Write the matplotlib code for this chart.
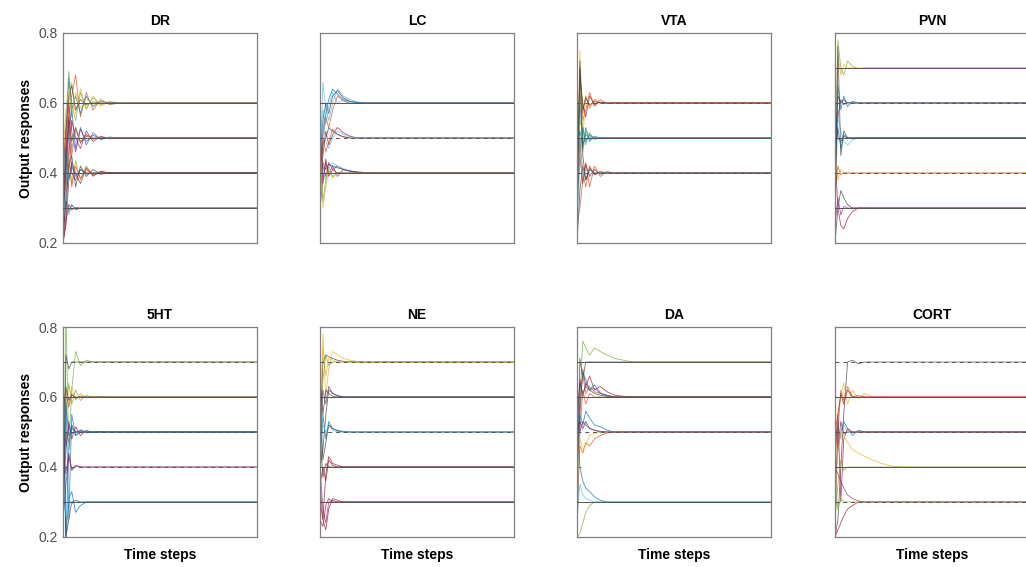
import matplotlib
matplotlib.use("Agg")
from matplotlib import pyplot as plt

plt.rcParams['font.family'] = ['Liberation Sans', 'DejaVu Sans']

# MATLAB-like line colours
colors = {
	'b': '#0072BD', 'o': '#D95319', 'y': '#EDB120', 'p': '#7E2F8E',
	'g': '#77AC30', 'c': '#4DBEEE', 'r': '#A2142F', 'k': '#404040',
}

# time steps of the early (transient) samples; after these each run stays at its target
steps = [0, 1.5, 3, 4.5, 6.5, 9, 12, 15.5, 19.5, 24, 29, 35]
t_end = 100

panel_names = ['DR', 'LC', 'VTA', 'PVN', '5HT', 'NE', 'DA', 'CORT']

# target levels for each output and whether the target line is dashed
levels = {
	'DR': [0.6, 0.5, 0.4, 0.3],
	'LC': [0.6, 0.5, 0.4],
	'VTA': [0.6, 0.5, 0.4],
	'PVN': [0.7, 0.6, 0.5, 0.4, 0.3],
	'5HT': [0.7, 0.6, 0.5, 0.4, 0.3],
	'NE': [0.7, 0.6, 0.5, 0.4, 0.3],
	'DA': [0.7, 0.6, 0.5, 0.3],
	'CORT': [0.7, 0.6, 0.5, 0.4, 0.3],
}
dashed = {
	'DR': [False, False, False, False],
	'LC': [False, True, False],
	'VTA': [True, False, True],
	'PVN': [False, True, False, True, False],
	'5HT': [True, False, True, True, False],
	'NE': [True, False, True, False, False],
	'DA': [False, False, True, False],
	'CORT': [True, False, True, False, True],
}

# output responses: (target, colour, early samples)
runs = {
	'DR': [
		(0.6, 'y', [0.30, 0.48, 0.60, 0.66, 0.57, 0.64, 0.58, 0.62, 0.59, 0.605, 0.60]),
		(0.6, 'o', [0.25, 0.40, 0.55, 0.62, 0.68, 0.56, 0.63, 0.58, 0.61, 0.595, 0.60]),
		(0.6, 'g', [0.35, 0.55, 0.69, 0.60, 0.55, 0.63, 0.585, 0.615, 0.595, 0.603]),
		(0.6, 'b', [0.28, 0.50, 0.67, 0.58, 0.62, 0.57, 0.62, 0.59, 0.605]),
		(0.6, 'k', [0.40, 0.52, 0.62, 0.65, 0.58, 0.61, 0.595, 0.603, 0.60]),
		(0.6, 'y', [0.45, 0.58, 0.64, 0.56, 0.63, 0.585, 0.612, 0.594, 0.603, 0.598]),
		(0.5, 'b', [0.22, 0.35, 0.52, 0.58, 0.47, 0.53, 0.48, 0.515, 0.495, 0.503]),
		(0.5, 'p', [0.30, 0.45, 0.60, 0.52, 0.46, 0.525, 0.49, 0.508, 0.498]),
		(0.5, 'r', [0.20, 0.28, 0.45, 0.55, 0.50, 0.47, 0.52, 0.49, 0.505, 0.498]),
		(0.5, 'k', [0.25, 0.40, 0.56, 0.49, 0.53, 0.485, 0.51, 0.497, 0.502]),
		(0.5, 'c', [0.35, 0.50, 0.54, 0.47, 0.52, 0.49, 0.505]),
		(0.5, 'o', [0.20, 0.50, 0.60, 0.45, 0.53, 0.49, 0.505]),
		(0.4, 'g', [0.28, 0.36, 0.44, 0.37, 0.435, 0.38, 0.42, 0.39, 0.405, 0.398]),
		(0.4, 'k', [0.22, 0.32, 0.42, 0.45, 0.36, 0.42, 0.39, 0.41, 0.396, 0.402]),
		(0.4, 'r', [0.20, 0.25, 0.38, 0.43, 0.40, 0.37, 0.415, 0.392, 0.405]),
		(0.4, 'o', [0.40, 0.52, 0.45, 0.36, 0.42, 0.385, 0.41, 0.395, 0.403]),
		(0.4, 'b', [0.30, 0.47, 0.38, 0.42, 0.39, 0.41, 0.397]),
		(0.4, 'r', [0.21, 0.45, 0.55, 0.40, 0.38, 0.41, 0.40]),
		(0.3, 'k', [0.22, 0.32, 0.29, 0.31, 0.295, 0.30]),
		(0.3, 'r', [0.20, 0.26, 0.31, 0.295, 0.302]),
		(0.3, 'c', [0.25, 0.35, 0.28, 0.305, 0.298]),
	],
	'LC': [
		(0.6, 'c', [0.40, 0.66, 0.58, 0.55, 0.60, 0.64, 0.62, 0.61, 0.603, 0.60]),
		(0.6, 'k', [0.45, 0.55, 0.60, 0.57, 0.62, 0.635, 0.615, 0.605, 0.601]),
		(0.6, 'c', [0.50, 0.58, 0.54, 0.59, 0.63, 0.60, 0.61, 0.598, 0.602]),
		(0.6, 'o', [0.35, 0.50, 0.56, 0.53, 0.58, 0.62, 0.605, 0.60]),
		(0.6, 'b', [0.42, 0.52, 0.57, 0.61, 0.64, 0.625, 0.61, 0.604, 0.601]),
		(0.5, 'r', [0.35, 0.45, 0.52, 0.48, 0.51, 0.53, 0.515, 0.505, 0.50]),
		(0.5, 'o', [0.30, 0.50, 0.46, 0.49, 0.525, 0.51, 0.503]),
		(0.5, 'k', [0.40, 0.48, 0.50, 0.53, 0.52, 0.51, 0.504, 0.50]),
		(0.5, 'c', [0.45, 0.55, 0.49, 0.47, 0.50, 0.52, 0.51, 0.502]),
		(0.4, 'p', [0.35, 0.42, 0.39, 0.43, 0.41, 0.42, 0.41, 0.405, 0.402, 0.401]),
		(0.4, 'p', [0.30, 0.38, 0.43, 0.40, 0.42, 0.39, 0.41, 0.405]),
		(0.4, 'c', [0.45, 0.40, 0.38, 0.42, 0.43, 0.42, 0.412, 0.406, 0.403, 0.401]),
		(0.4, 'k', [0.38, 0.43, 0.41, 0.425, 0.42, 0.415, 0.41, 0.406, 0.403, 0.401]),
		(0.4, 'y', [0.50, 0.30, 0.36, 0.41, 0.385, 0.40]),
		(0.4, 'g', [0.45, 0.32, 0.38, 0.42, 0.39, 0.402]),
		(0.4, 'r', [0.55, 0.37, 0.44, 0.39, 0.41, 0.40]),
	],
	'VTA': [
		(0.6, 'o', [0.45, 0.70, 0.55, 0.58, 0.63, 0.59, 0.61, 0.598, 0.601]),
		(0.6, 'o', [0.50, 0.62, 0.57, 0.62, 0.585, 0.61, 0.60]),
		(0.6, 'y', [0.30, 0.75, 0.50, 0.62, 0.59, 0.605, 0.60]),
		(0.6, 'r', [0.40, 0.66, 0.60, 0.56, 0.62, 0.595, 0.603]),
		(0.6, 'k', [0.35, 0.70, 0.58, 0.615, 0.595, 0.604, 0.60]),
		(0.5, 'b', [0.40, 0.60, 0.47, 0.53, 0.49, 0.505, 0.50]),
		(0.5, 'g', [0.30, 0.55, 0.52, 0.48, 0.515, 0.495, 0.502]),
		(0.5, 'b', [0.55, 0.45, 0.53, 0.49, 0.51, 0.498]),
		(0.5, 'c', [0.25, 0.50, 0.46, 0.52, 0.495]),
		(0.5, 'g', [0.20, 0.65, 0.47, 0.52, 0.505, 0.50]),
		(0.5, 'b', [0.45, 0.52, 0.48, 0.51, 0.50]),
		(0.4, 'o', [0.25, 0.30, 0.38, 0.43, 0.36, 0.42, 0.39, 0.405, 0.398]),
		(0.4, 'r', [0.30, 0.45, 0.37, 0.425, 0.39, 0.41, 0.397]),
		(0.4, 'k', [0.20, 0.35, 0.42, 0.38, 0.415, 0.395, 0.402]),
		(0.4, 'o', [0.35, 0.50, 0.40, 0.36, 0.42, 0.395, 0.405]),
		(0.4, 'c', [0.20, 0.45, 0.39, 0.41, 0.40]),
		(0.4, 'k', [0.25, 0.72, 0.45, 0.38, 0.41, 0.40]),
	],
	'PVN': [
		(0.7, 'g', [0.40, 0.78, 0.70, 0.68, 0.72, 0.705, 0.698, 0.70]),
		(0.7, 'y', [0.50, 0.74, 0.68, 0.71, 0.70]),
		(0.6, 'b', [0.40, 0.65, 0.58, 0.62, 0.59, 0.605, 0.60]),
		(0.6, 'p', [0.50, 0.56, 0.61, 0.595, 0.602]),
		(0.6, 'k', [0.30, 0.62, 0.60, 0.61, 0.60]),
		(0.5, 'c', [0.30, 0.56, 0.52, 0.49, 0.48, 0.495, 0.50]),
		(0.5, 'b', [0.45, 0.53, 0.47, 0.51, 0.50]),
		(0.5, 'k', [0.60, 0.50, 0.49, 0.505, 0.50]),
		(0.5, 'k', [0.22, 0.76, 0.45, 0.52, 0.50]),
		(0.4, 'y', [0.45, 0.38, 0.41, 0.40]),
		(0.4, 'o', [0.35, 0.42, 0.395, 0.40]),
		(0.3, 'k', [0.20, 0.30, 0.35, 0.33, 0.31, 0.30]),
		(0.3, 'r', [0.45, 0.30, 0.25, 0.24, 0.27, 0.29, 0.30]),
		(0.3, 'p', [0.25, 0.33, 0.28, 0.305, 0.30]),
	],
	'5HT': [
		(0.7, 'g', [0.20, 0.85, 0.45, 0.62, 0.73, 0.69, 0.705, 0.70]),
		(0.7, 'k', [0.30, 0.72, 0.68, 0.70]),
		(0.6, 'g', [0.45, 0.55, 0.64, 0.58, 0.62, 0.59, 0.605, 0.598, 0.601]),
		(0.6, 'y', [0.40, 0.60, 0.58, 0.63, 0.59, 0.61, 0.597, 0.602, 0.60]),
		(0.6, 'o', [0.50, 0.62, 0.57, 0.61, 0.595, 0.603, 0.60]),
		(0.6, 'k', [0.55, 0.63, 0.59, 0.605, 0.60]),
		(0.5, 'r', [0.30, 0.45, 0.53, 0.48, 0.515, 0.49, 0.505, 0.498, 0.501]),
		(0.5, 'o', [0.35, 0.50, 0.47, 0.52, 0.49, 0.507, 0.497, 0.501]),
		(0.5, 'b', [0.20, 0.58, 0.49, 0.51, 0.50]),
		(0.5, 'p', [0.55, 0.46, 0.52, 0.495, 0.503, 0.50]),
		(0.5, 'b', [0.60, 0.20, 0.45, 0.52, 0.497, 0.505, 0.50]),
		(0.5, 'b', [0.20, 0.60, 0.25, 0.55, 0.49, 0.50]),
		(0.4, 'r', [0.25, 0.35, 0.43, 0.39, 0.405, 0.40]),
		(0.4, 'p', [0.45, 0.38, 0.44, 0.395, 0.402]),
		(0.3, 'b', [0.50, 0.20, 0.31, 0.33, 0.27, 0.29, 0.30]),
		(0.3, 'k', [0.72, 0.20, 0.25, 0.30, 0.305, 0.30]),
		(0.3, 'c', [0.40, 0.26, 0.31, 0.295, 0.30]),
	],
	'NE': [
		(0.7, 'y', [0.45, 0.78, 0.60, 0.68, 0.73, 0.72, 0.71, 0.705, 0.702, 0.70]),
		(0.7, 'k', [0.50, 0.70, 0.72, 0.715, 0.71, 0.705, 0.702, 0.701]),
		(0.7, 'y', [0.55, 0.74, 0.66, 0.71, 0.705, 0.70]),
		(0.7, 'g', [0.40, 0.65, 0.72, 0.69, 0.70]),
		(0.6, 'p', [0.50, 0.62, 0.58, 0.63, 0.61, 0.605, 0.60]),
		(0.6, 'k', [0.65, 0.55, 0.62, 0.61, 0.602]),
		(0.6, 'k', [0.40, 0.45, 0.55, 0.62, 0.61, 0.603, 0.60]),
		(0.5, 'b', [0.40, 0.55, 0.48, 0.53, 0.51, 0.505, 0.502, 0.50]),
		(0.5, 'c', [0.45, 0.52, 0.50, 0.52, 0.505, 0.50]),
		(0.5, 'k', [0.60, 0.42, 0.47, 0.52, 0.51, 0.503, 0.50]),
		(0.4, 'r', [0.30, 0.25, 0.38, 0.43, 0.41, 0.405, 0.40]),
		(0.4, 'r', [0.35, 0.40, 0.36, 0.42, 0.405, 0.40]),
		(0.4, 'k', [0.50, 0.37, 0.41, 0.40]),
		(0.3, 'r', [0.35, 0.25, 0.22, 0.28, 0.31, 0.305, 0.30]),
		(0.3, 'p', [0.40, 0.28, 0.24, 0.30, 0.305, 0.30]),
		(0.3, 'r', [0.25, 0.23, 0.29, 0.31, 0.30]),
	],
	'DA': [
		(0.7, 'g', [0.20, 0.60, 0.76, 0.74, 0.72, 0.74, 0.73, 0.72, 0.71, 0.705, 0.70]),
		(0.7, 'k', [0.35, 0.71, 0.65, 0.70]),
		(0.6, 'r', [0.40, 0.55, 0.68, 0.63, 0.66, 0.62, 0.63, 0.615, 0.605, 0.602]),
		(0.6, 'p', [0.50, 0.65, 0.60, 0.64, 0.62, 0.625, 0.61, 0.605, 0.60]),
		(0.6, 'o', [0.30, 0.62, 0.66, 0.61, 0.63, 0.615, 0.61, 0.603]),
		(0.6, 'b', [0.45, 0.58, 0.67, 0.65, 0.62, 0.635, 0.612, 0.604]),
		(0.6, 'k', [0.55, 0.64, 0.61, 0.63, 0.62, 0.61, 0.605, 0.602]),
		(0.6, 'o', [0.20, 0.50, 0.62, 0.58, 0.61, 0.60]),
		(0.5, 'b', [0.45, 0.55, 0.52, 0.56, 0.54, 0.52, 0.515, 0.505, 0.50]),
		(0.5, 'o', [0.40, 0.46, 0.44, 0.47, 0.46, 0.48, 0.49, 0.497, 0.50]),
		(0.5, 'y', [0.35, 0.48, 0.45, 0.46, 0.49, 0.495, 0.50]),
		(0.5, 'k', [0.50, 0.53, 0.51, 0.53, 0.51, 0.505, 0.502, 0.50]),
		(0.5, 'p', [0.55, 0.50, 0.53, 0.52, 0.51, 0.505]),
		(0.3, 'b', [0.55, 0.40, 0.36, 0.34, 0.33, 0.315, 0.305, 0.30]),
		(0.3, 'g', [0.20, 0.21, 0.24, 0.27, 0.29, 0.30]),
		(0.3, 'c', [0.25, 0.35, 0.32, 0.31, 0.305, 0.30]),
	],
	'CORT': [
		(0.7, 'k', [0.20, 0.25, 0.40, 0.55, 0.70, 0.705, 0.695, 0.70]),
		(0.6, 'y', [0.40, 0.55, 0.60, 0.64, 0.58, 0.62, 0.595, 0.61, 0.60]),
		(0.6, 'o', [0.45, 0.50, 0.62, 0.59, 0.63, 0.60, 0.605, 0.60]),
		(0.6, 'r', [0.50, 0.55, 0.61, 0.58, 0.62, 0.60]),
		(0.5, 'b', [0.35, 0.45, 0.50, 0.53, 0.51, 0.49, 0.505, 0.50]),
		(0.5, 'c', [0.45, 0.52, 0.48, 0.52, 0.50]),
		(0.5, 'r', [0.55, 0.45, 0.53, 0.495, 0.50]),
		(0.5, 'r', [0.20, 0.55, 0.30, 0.48, 0.51, 0.50]),
		(0.4, 'y', [0.30, 0.45, 0.50, 0.49, 0.47, 0.45, 0.44, 0.43, 0.42, 0.41, 0.403]),
		(0.4, 'g', [0.25, 0.35, 0.42, 0.39, 0.40]),
		(0.3, 'p', [0.40, 0.38, 0.36, 0.34, 0.32, 0.31, 0.303, 0.30]),
		(0.3, 'r', [0.20, 0.22, 0.24, 0.26, 0.28, 0.29, 0.30]),
		(0.3, 'g', [0.35, 0.28, 0.31, 0.30]),
	],
}

fig = plt.figure(figsize=(10.26, 5.67), dpi=100)

col_left = [63, 320, 577, 835]
row_top = [33, 327]
ax_w, ax_h = 194, 210

for i, name in enumerate(panel_names):
	row, col = divmod(i, 4)
	left = col_left[col] / 1026
	bottom = 1 - (row_top[row] + ax_h) / 567
	ax = fig.add_axes([left, bottom, ax_w / 1026, ax_h / 567])

	# each run: early samples then held at its target
	for target, c, ys in runs[name]:
		n = len(ys)
		xs = steps[:n] + [steps[n] if n < len(steps) else steps[-1] + 6, t_end]
		ys = list(ys) + [target, target]
		ax.plot(xs, ys, color=colors[c], lw=0.6, alpha=0.75, zorder=2)

	# target lines
	for lv, ds in zip(levels[name], dashed[name]):
		ax.plot([0, t_end], [lv, lv], color='#555555', lw=0.7,
			ls=(0, (4, 4)) if ds else '-', zorder=3)

	ax.set_xlim(0, t_end)
	ax.set_ylim(0.2, 0.8)
	ax.set_xticks([])
	ax.set_yticks([0.2, 0.4, 0.6, 0.8])
	ax.tick_params(axis='y', direction='in', length=3,
		colors='#808080', labelcolor='#505050', labelsize=10)
	if col != 0:
		ax.set_yticklabels([])
	else:
		ax.set_ylabel('Output responses', fontsize=10, fontweight='bold', labelpad=4)
	if row == 1:
		ax.set_xlabel('Time steps', fontsize=10, fontweight='bold', labelpad=8)
	ax.set_title(name, fontsize=10, fontweight='bold', pad=6)
	for sp in ax.spines.values():
		sp.set_color('#808080')
		sp.set_linewidth(0.9)

fig.savefig('out.png', dpi=100)
